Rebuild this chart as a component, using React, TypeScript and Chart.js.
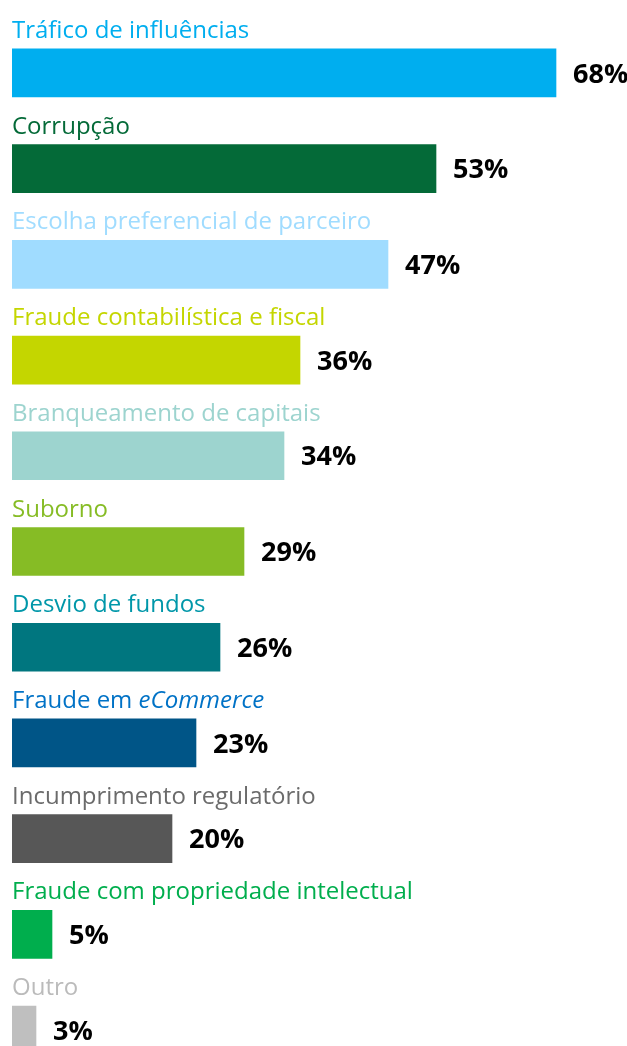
import React, { useEffect, useRef } from "react";
import { Chart, registerables } from "chart.js";

Chart.register(...registerables);

const categories = [
  "Tráfico de influências",
  "Corrupção",
  "Escolha preferencial de parceiro",
  "Fraude contabilística e fiscal",
  "Branqueamento de capitais",
  "Suborno",
  "Desvio de fundos",
  "Fraude em eCommerce",
  "Incumprimento regulatório",
  "Fraude com propriedade intelectual",
  "Outro",
];

const values = [68, 53, 47, 36, 34, 29, 26, 23, 20, 5, 3];

const barColors = [
  "#00AEEF",
  "#046A38",
  "#A0DCFF",
  "#C4D600",
  "#9DD4CF",
  "#86BC25",
  "#00767F",
  "#005587",
  "#575757",
  "#00AE4D",
  "#BFBFBF",
];

const labelColors = [
  "#00AEEF",
  "#046A38",
  "#A0DCFF",
  "#C4D600",
  "#9DD4CF",
  "#86BC25",
  "#0097A9",
  "#0072C6",
  "#6B6B6B",
  "#00AE4D",
  "#BBBBBB",
];

const italicWords = ["eCommerce"];

const FONT = "'Open Sans', 'Noto Sans', sans-serif";
const LABEL_SIZE = 24;
const VALUE_SIZE = 27;

const labelPlugin = {
  id: "barLabels",
  afterDatasetsDraw(chart: any) {
    const ctx = chart.ctx;
    const meta = chart.getDatasetMeta(0);
    ctx.save();
    meta.data.forEach((bar: any, i: number) => {
      const props = bar.getProps(["x", "y", "base", "height"], true);
      const top = props.y - props.height / 2;
      const left = props.base;
      const text: string = categories[i];
      ctx.fillStyle = labelColors[i];
      ctx.textBaseline = "alphabetic";
      ctx.textAlign = "left";
      const ly = top - 11;
      const italic = italicWords.find((w) => text.includes(w));
      if (italic) {
        const idx = text.indexOf(italic);
        const before = text.slice(0, idx);
        const after = text.slice(idx + italic.length);
        let x = left;
        ctx.font = `400 ${LABEL_SIZE}px ${FONT}`;
        ctx.fillText(before, x, ly);
        x += ctx.measureText(before).width;
        ctx.font = `italic 400 ${LABEL_SIZE}px ${FONT}`;
        ctx.fillText(italic, x, ly);
        x += ctx.measureText(italic).width;
        ctx.font = `400 ${LABEL_SIZE}px ${FONT}`;
        if (after) ctx.fillText(after, x, ly);
      } else {
        ctx.font = `400 ${LABEL_SIZE}px ${FONT}`;
        ctx.fillText(text, left, ly);
      }
      ctx.fillStyle = "#000000";
      ctx.font = `700 ${VALUE_SIZE}px ${FONT}`;
      ctx.textBaseline = "middle";
      ctx.fillText(`${values[i]}%`, props.x + 17, props.y + 2);
    });
    ctx.restore();
  },
};

export default function App() {
  const ref = useRef<HTMLCanvasElement | null>(null);

  useEffect(() => {
    if (!ref.current) return;
    const chart = new Chart(ref.current, {
      type: "bar",
      data: {
        labels: categories,
        datasets: [
          {
            data: values,
            backgroundColor: barColors,
            borderWidth: 0,
            barThickness: 48,
          },
        ],
      },
      options: {
        indexAxis: "y",
        responsive: false,
        animation: false,
        devicePixelRatio: 1,
        layout: { padding: { left: 12, right: 0, top: 25, bottom: 0 } },
        plugins: {
          legend: { display: false },
          tooltip: { enabled: false },
        },
        scales: {
          x: { display: false, min: 0, max: 76.875 },
          y: { display: false },
        },
      },
      plugins: [labelPlugin],
    });
    return () => chart.destroy();
  }, []);

  return (
    <div
      style={{
        position: "fixed",
        top: 0,
        left: 0,
        width: 627,
        height: 1046,
        overflow: "hidden",
        background: "#ffffff",
      }}
    >
      <canvas ref={ref} width={627} height={1078} style={{ display: "block" }} />
    </div>
  );
}
